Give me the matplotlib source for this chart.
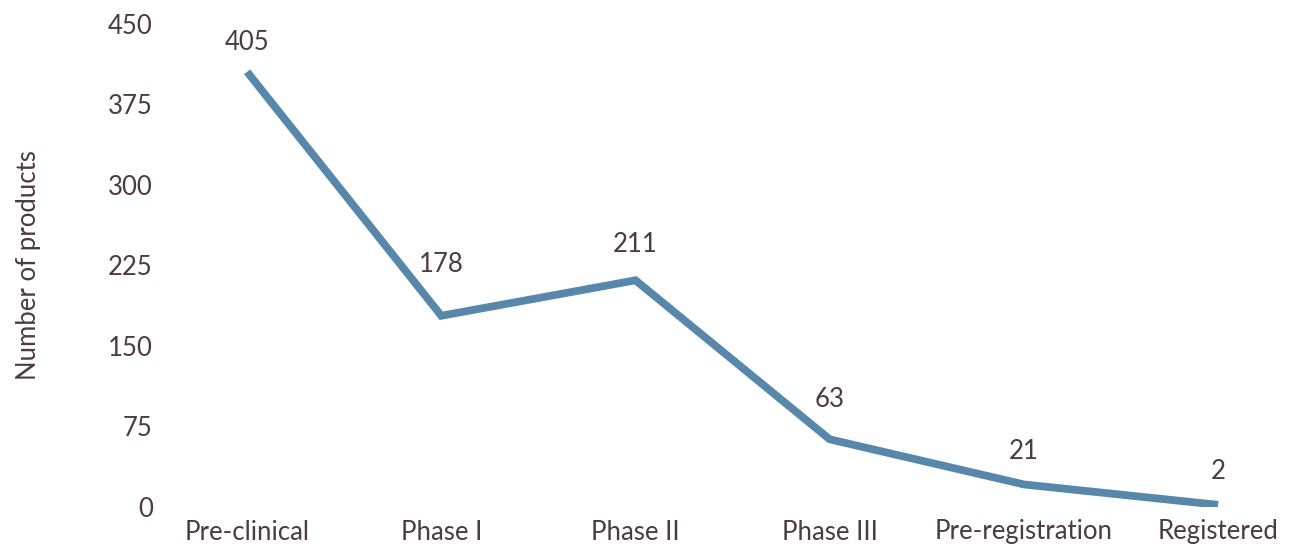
import matplotlib
matplotlib.use("Agg")
import matplotlib.pyplot as plt

stages = ["Pre-clinical", "Phase I", "Phase II", "Phase III", "Pre-registration", "Registered"]
counts = [405, 178, 211, 63, 21, 2]
yticks = [0, 75, 150, 225, 300, 375, 450]

TEXT = "#4d3b3d"
LINE = "#5787aa"
plt.rcParams['font.family'] = ['Lato', 'DejaVu Sans']

W, H = 1308, 554
fig = plt.figure(figsize=(W / 100, H / 100), dpi=100)
x0, s = 150, 194.2
ax = fig.add_axes([x0 / W, 47 / H, 5.9 * s / W, 483.5 / H])
xs = list(range(len(stages)))
ax.plot(xs, counts, color=LINE, linewidth=5.6, solid_joinstyle='miter', solid_capstyle='butt')
ax.set_xlim(-0.5, 5.4)
ax.set_ylim(0, 450)
ax.set_yticks(yticks)
ax.set_xticks(xs)
ax.set_xticklabels(stages)
for sp in ax.spines.values():
    sp.set_visible(False)
ax.tick_params(axis='both', length=0, labelsize=18.5, colors=TEXT, labelcolor=TEXT)
ax.tick_params(axis='y', pad=-2)
ax.tick_params(axis='x', pad=9)
ax.set_ylabel("Number of products", fontsize=18.5, color=TEXT)
ax.yaxis.set_label_coords(-0.095, 0.5)

offsets = [21, 37, 26, 29, 24, 24]
for x, y, o in zip(xs, counts, offsets):
    ax.annotate(str(y), (x, y), xytext=(0, o), textcoords='offset points',
                ha='center', va='center', fontsize=18.5, color=TEXT)

fig.savefig("out.png", dpi=100)
